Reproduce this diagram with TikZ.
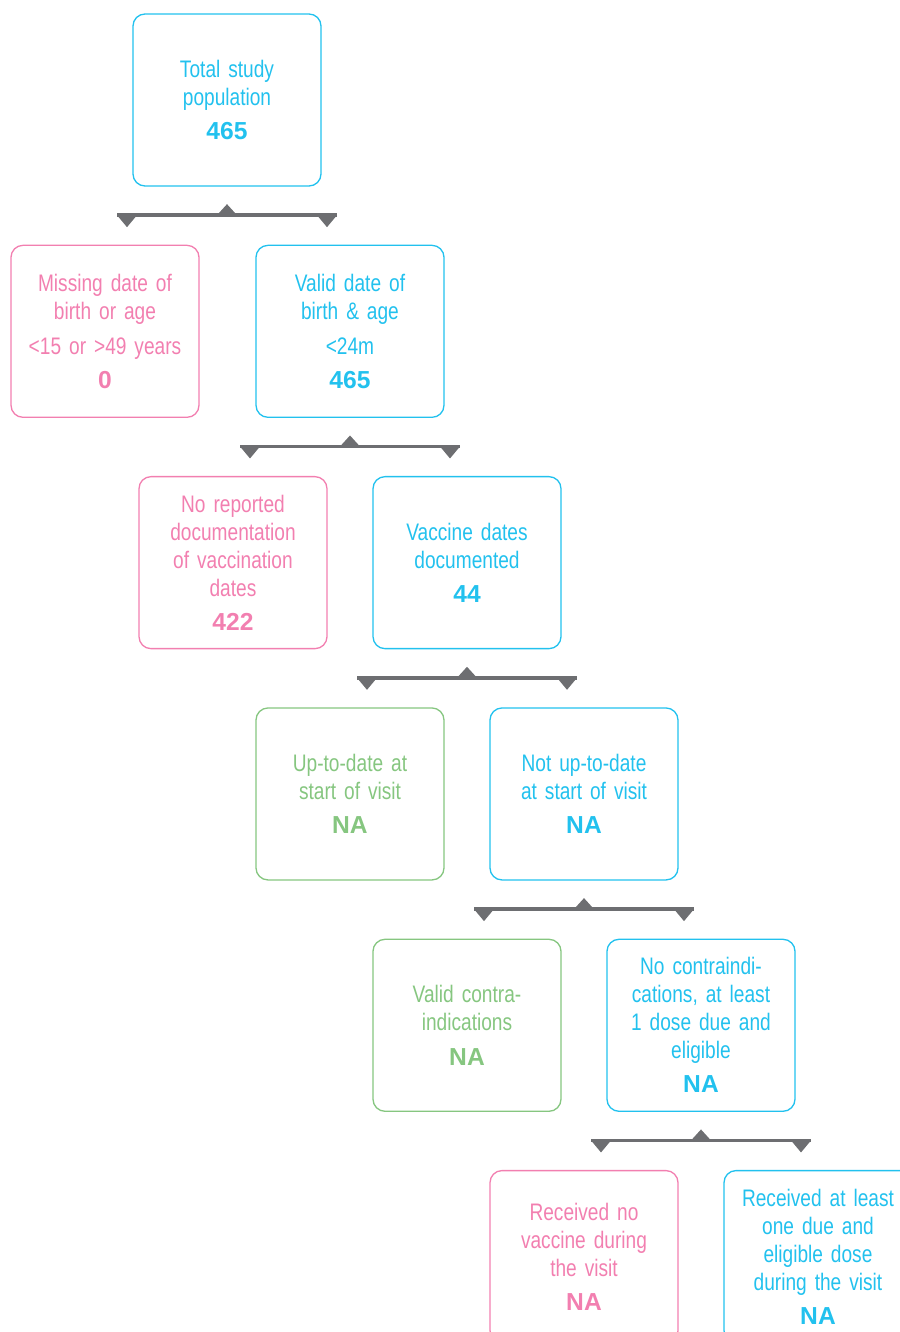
\documentclass[tikz,border=0pt]{standalone}
\usepackage{fontspec}
\setmainfont[FakeStretch=0.8]{Liberation Sans}
\newfontfamily\numfont{Liberation Sans}
\usepackage{tikz}
\usetikzlibrary{positioning,calc}
\definecolor{Cyan}{HTML}{22C1EE}
\definecolor{Pink}{HTML}{F27FB0}
\definecolor{Green}{HTML}{86C680}
\definecolor{BarGray}{HTML}{6D6E71}
\newcommand{\cnt}[1]{{\numfont\bfseries\fontsize{14}{15.9}\selectfont #1}}

\begin{document}
\begin{tikzpicture}[node distance=1.16cm,
  every node/.style={font=\fontsize{13.6}{15.9}\selectfont},
  box/.style={draw, rounded corners=0.24cm, line width=0.75pt, minimum width=3.76cm, minimum height=3.44cm, text width=3.6cm, align=center, inner sep=0.08cm},
  cyanbox/.style={box, draw=Cyan, text=Cyan},
  pinkbox/.style={box, draw=Pink, text=Pink},
  greenbox/.style={box, draw=Green, text=Green}]
  \useasboundingbox (0,0) rectangle (17.98,-26.64);

  \node[cyanbox] (total) at (4.54,-2.0) {Total study\\population\\[3.6pt]\cnt{465}};

  \node[pinkbox, below=of total, xshift=-2.44cm] (missing) {Missing date of\\birth or age\\[4pt]<15 or >49 years\\[3.6pt]\cnt{0}};
  \node[cyanbox, below=of total, xshift=2.46cm] (valid) {Valid date of\\birth \& age\\[4pt]<24m\\[3.6pt]\cnt{465}};

  \node[pinkbox, below=of valid, xshift=-2.34cm] (nodoc) {No reported\\documentation\\of vaccination\\dates\\[3.6pt]\cnt{422}};
  \node[cyanbox, below=of valid, xshift=2.34cm] (dated) {Vaccine dates\\documented\\[3.6pt]\cnt{44}};

  \node[greenbox, below=of dated, xshift=-2.34cm] (utd) {Up-to-date at\\start of visit\\[3.6pt]\cnt{NA}};
  \node[cyanbox, below=of dated, xshift=2.34cm] (notutd) {Not up-to-date\\at start of visit\\[3.6pt]\cnt{NA}};

  \node[greenbox, below=of notutd, xshift=-2.34cm] (contra) {Valid contra-\\indications\\[3.6pt]\cnt{NA}};
  \node[cyanbox, below=of notutd, xshift=2.34cm] (nocontra) {No contraindi-\\cations, at least\\1 dose due and\\eligible\\[3.6pt]\cnt{NA}};

  \node[pinkbox, below=of nocontra, xshift=-2.34cm] (novacc) {Received no\\vaccine during\\the visit\\[3.6pt]\cnt{NA}};
  \node[cyanbox, below=of nocontra, xshift=2.34cm] (gotdose) {Received at least\\one due and\\eligible dose\\during the visit\\[3.6pt]\cnt{NA}};

  % split bars under each parent box
  \foreach \p in {total,valid,dated,notutd,nocontra}{
    \coordinate (\p-c) at ($(\p.south)+(0,-0.57)$);
    \draw[BarGray, line width=2pt] ($(\p-c)+(-2.2,0)$) -- ($(\p-c)+(2.2,0)$);
    \fill[BarGray] ($(\p-c)+(-0.2,0)$) -- ($(\p-c)+(0.2,0)$) -- ($(\p-c)+(0,0.22)$) -- cycle;
    \fill[BarGray] ($(\p-c)+(-2.2,0)$) -- ($(\p-c)+(-1.8,0)$) -- ($(\p-c)+(-2.0,-0.24)$) -- cycle;
    \fill[BarGray] ($(\p-c)+(1.8,0)$) -- ($(\p-c)+(2.2,0)$) -- ($(\p-c)+(2.0,-0.24)$) -- cycle;
  }
\end{tikzpicture}
\end{document}
